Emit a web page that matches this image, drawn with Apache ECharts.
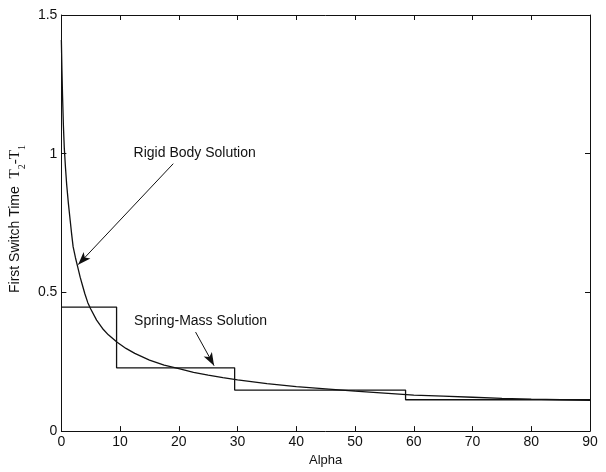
<!DOCTYPE html>
<html>
<head>
<meta charset="utf-8">
<script src="https://cdn.jsdelivr.net/npm/echarts@6/dist/echarts.min.js"></script>
<style>html,body{margin:0;padding:0;background:#fff}#c{width:606px;height:472px}</style>
</head>
<body>
<div id="c"></div>
<script>
// Rigid body solution curve (alpha, first switch time)
var rigidAlpha = [0, 0.1, 0.2, 0.35, 0.5, 0.7, 0.9, 1.2, 1.5, 1.75, 2, 2.4, 2.8, 3.2, 3.6, 4, 4.5, 5, 6, 7, 8, 9.5, 11, 12.5, 15, 17.5, 20, 22.5, 25, 27.5, 30, 35, 40, 45, 50, 55, 60, 65, 70, 75, 80, 85, 90];
var rigidTime  = [1.41, 1.3, 1.21, 1.1, 1.02, 0.95, 0.89, 0.82, 0.76, 0.71, 0.665, 0.625, 0.59, 0.555, 0.525, 0.495, 0.463, 0.44, 0.4, 0.37, 0.347, 0.32, 0.298, 0.28, 0.256, 0.238, 0.225, 0.212, 0.202, 0.193, 0.185, 0.171, 0.16, 0.152, 0.144, 0.137, 0.13, 0.126, 0.122, 0.118, 0.115, 0.113, 0.111];
// Spring-mass solution (step function: level starts at each alpha)
var springAlpha = [0, 9.4, 29.5, 58.6, 90];
var springTime  = [0.447, 0.228, 0.148, 0.113, 0.113];
// Axis ticks
var xTicks = {min: 0, max: 90, interval: 10};
var yTicks = {min: 0, max: 1.5, interval: 0.5};
// Annotations
var rigidLabel = {text: 'Rigid Body Solution', at: [22.7, 1.003], arrowFrom: [19.05, 0.964], arrowTo: [2.85, 0.6]};
var springLabel = {text: 'Spring-Mass Solution', at: [23.7, 0.396], arrowFrom: [22.85, 0.357], arrowTo: [26.0, 0.236]};

function pairs(xs, ys) { return xs.map(function (x, i) { return [x, ys[i]]; }); }

var font = 'Liberation Sans, Arial, sans-serif';
var serif = 'Liberation Serif, Times New Roman, serif';
var black = '#111';
function axisBase(extra) {
  var a = {
    type: 'value',
    axisLine: {show: true, onZero: false, lineStyle: {color: black, width: 1}},
    axisTick: {show: true, inside: true, length: 5, lineStyle: {color: black}},
    splitLine: {show: false},
    axisLabel: {show: true, color: black, fontFamily: font, fontSize: 14}
  };
  for (var k in extra) a[k] = extra[k];
  return a;
}

var chart = echarts.init(document.getElementById('c'));
chart.setOption({
  animation: false,
  backgroundColor: '#fff',
  grid: {left: 53, right: 16, top: 15, bottom: 36, containLabel: false},
  xAxis: [
    axisBase({min: xTicks.min, max: xTicks.max, interval: xTicks.interval, position: 'bottom',
      name: 'Alpha', nameLocation: 'middle', nameGap: 20,
      nameTextStyle: {color: black, fontFamily: font, fontSize: 13},
      axisLabel: {show: true, color: black, fontFamily: font, fontSize: 14, margin: 4}}),
    axisBase({min: xTicks.min, max: xTicks.max, interval: xTicks.interval, position: 'top',
      axisLabel: {show: false}})
  ],
  yAxis: [
    axisBase({min: yTicks.min, max: yTicks.max, interval: yTicks.interval, position: 'left',
      name: '{a|First Switch Time  }{t|T}{s|2}{t|-T}{s|1}', nameLocation: 'middle', nameGap: 22,
      nameTextStyle: {color: black, fontFamily: font, fontSize: 14, padding: [0, 0, 0, 8],
        rich: {
          a: {fontFamily: font, fontSize: 14, color: black},
          t: {fontFamily: serif, fontSize: 15, color: black},
          s: {fontFamily: serif, fontSize: 10, color: black, verticalAlign: 'bottom', padding: [0, 0, -4, 0]}
        }},
      axisLabel: {show: true, color: black, fontFamily: font, fontSize: 14, margin: 4}}),
    axisBase({min: yTicks.min, max: yTicks.max, interval: yTicks.interval, position: 'right',
      axisLabel: {show: false}})
  ],
  series: [
    {
      type: 'line', name: 'Rigid Body Solution',
      data: pairs(rigidAlpha, rigidTime),
      smooth: false,
      showSymbol: false, symbol: 'none',
      lineStyle: {color: black, width: 1.3},
      markLine: {
        silent: true, animation: false,
        label: {show: false},
        lineStyle: {color: black, width: 1, type: 'solid'},
        data: [
          [{coord: rigidLabel.arrowFrom, symbol: 'none'}, {coord: rigidLabel.arrowTo, symbol: 'arrow', symbolSize: [7, 13]}],
          [{coord: springLabel.arrowFrom, symbol: 'none'}, {coord: springLabel.arrowTo, symbol: 'arrow', symbolSize: [7, 13]}]
        ]
      },
      markPoint: {
        silent: true, animation: false,
        symbol: 'circle', symbolSize: 1, itemStyle: {color: 'rgba(0,0,0,0)'},
        label: {show: true, position: 'inside', color: black, fontFamily: font, fontSize: 14, formatter: '{b}'},
        data: [
          {name: rigidLabel.text, coord: rigidLabel.at},
          {name: springLabel.text, coord: springLabel.at}
        ]
      }
    },
    {
      type: 'line', name: 'Spring-Mass Solution',
      data: pairs(springAlpha, springTime),
      step: 'end',
      showSymbol: false, symbol: 'none',
      lineStyle: {color: black, width: 1.3}
    }
  ]
});
</script>
</body>
</html>
